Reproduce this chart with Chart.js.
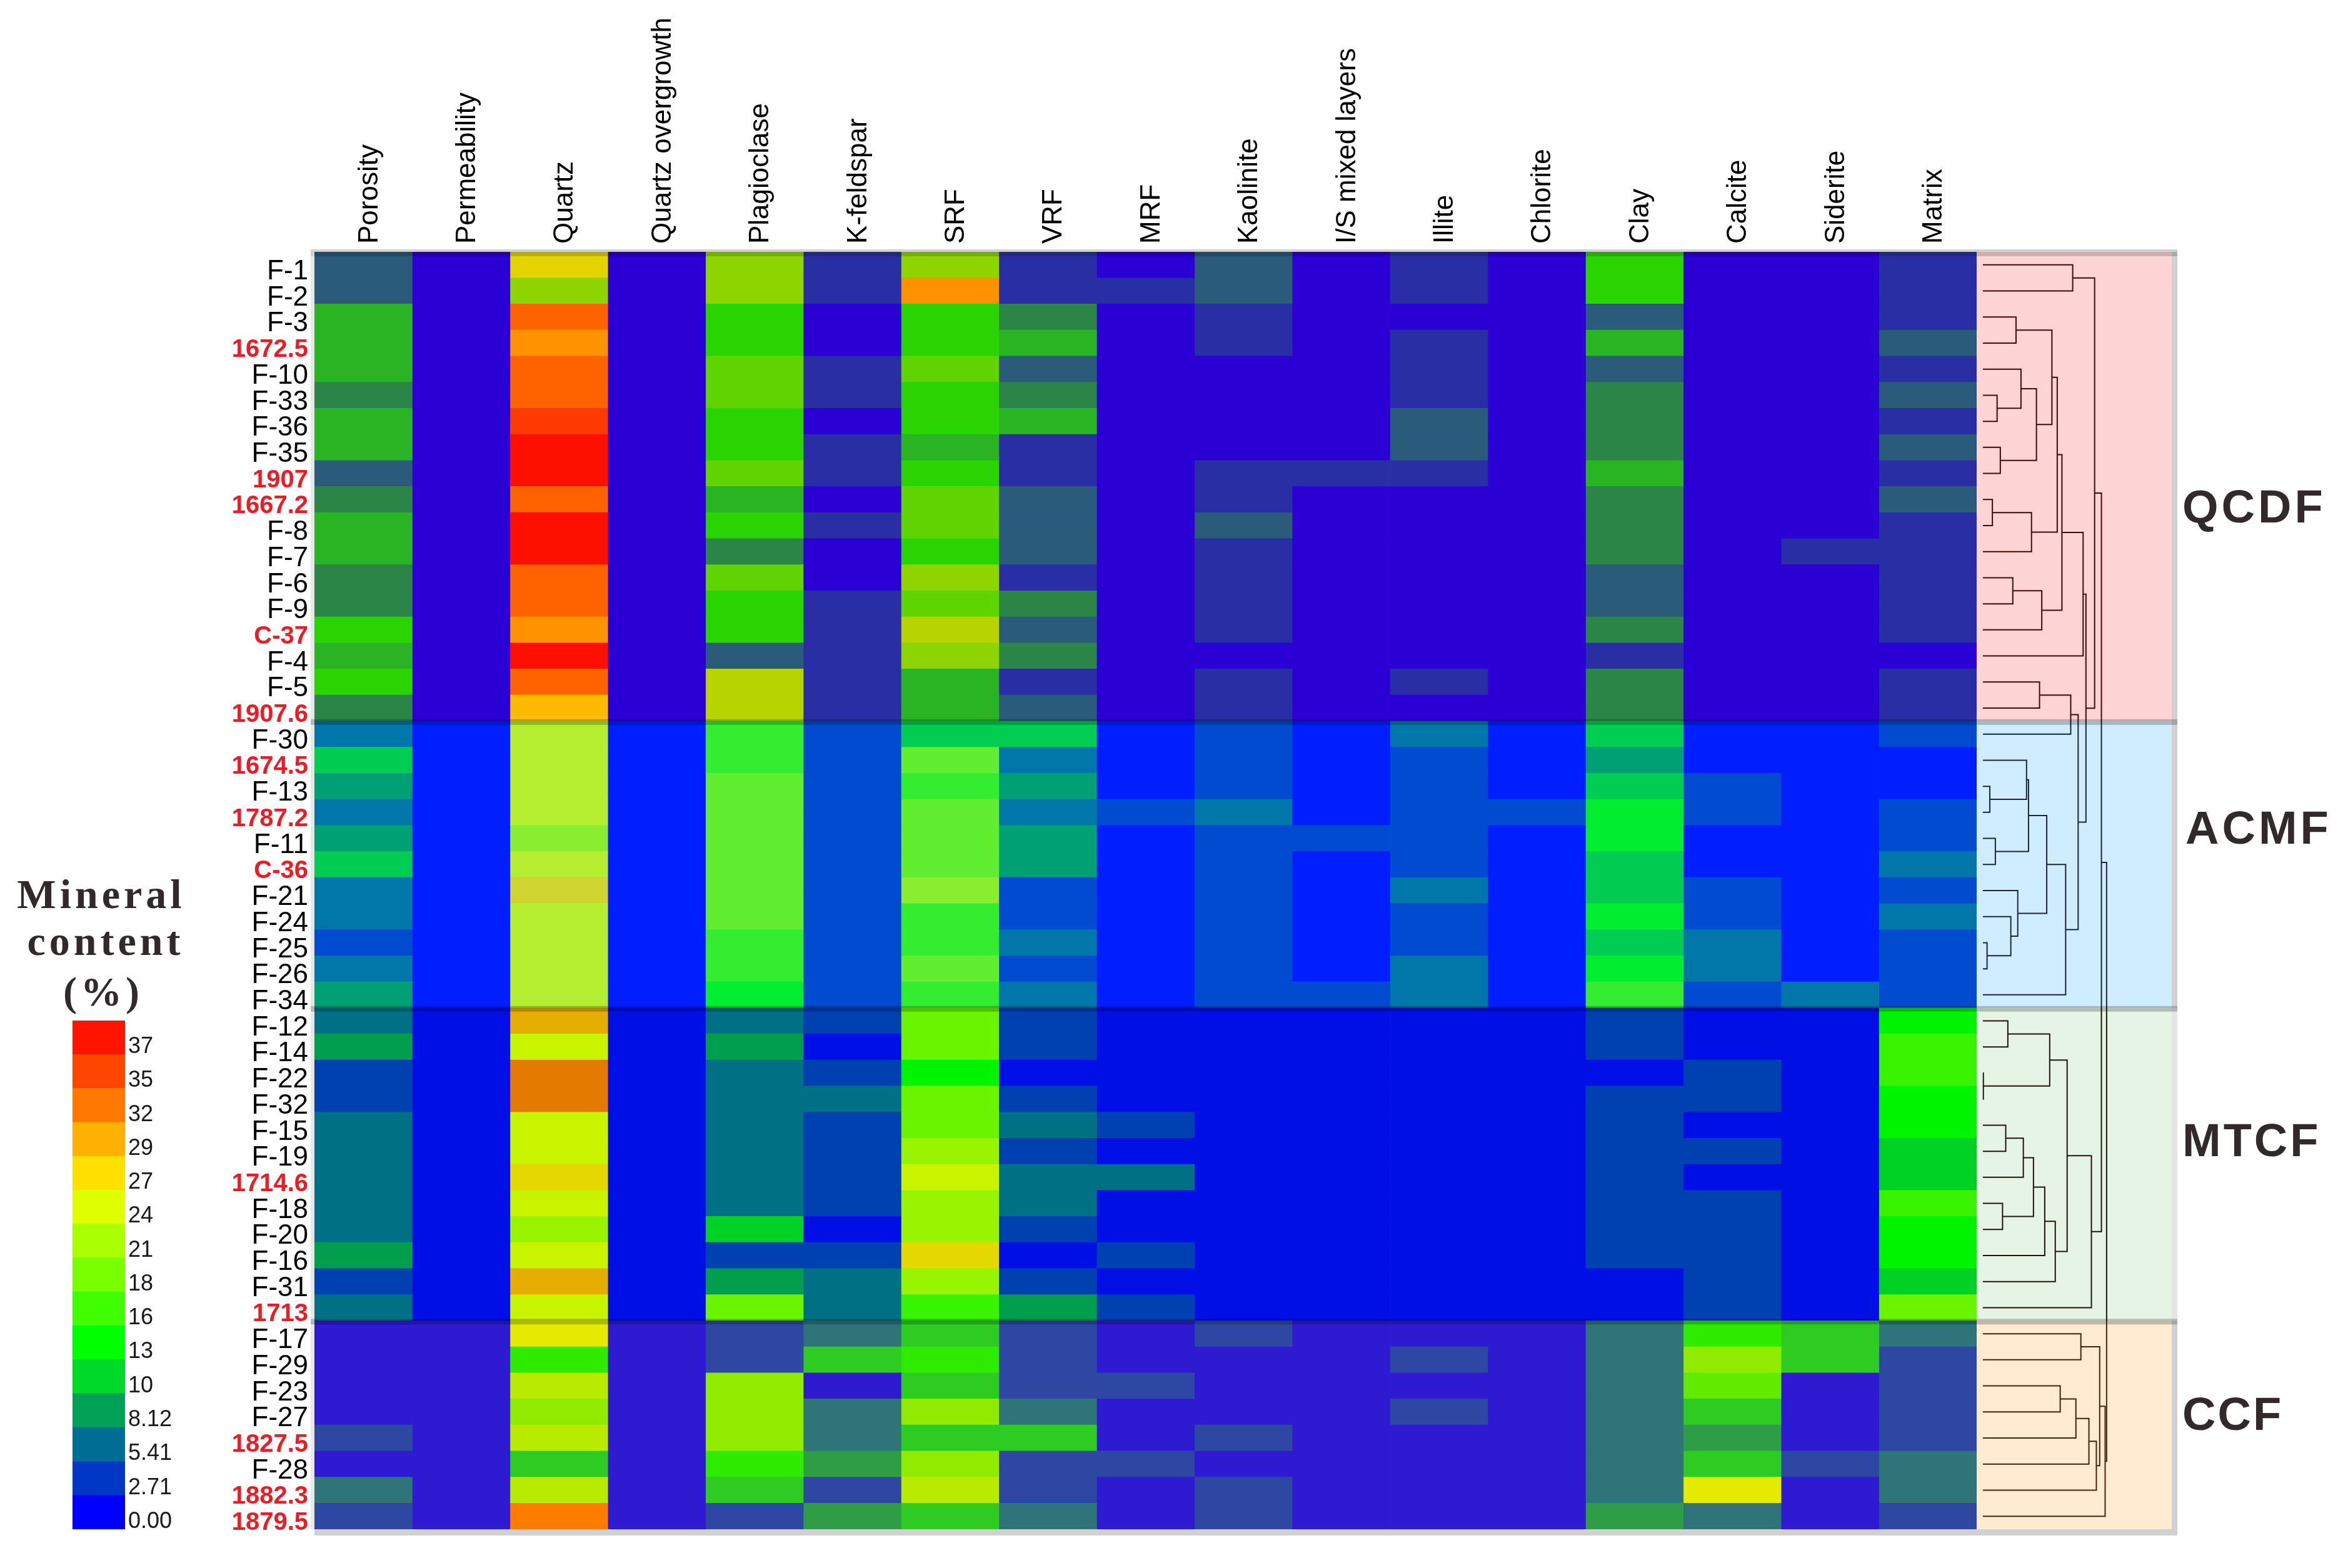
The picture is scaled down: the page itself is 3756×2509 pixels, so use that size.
<!DOCTYPE html>
<html>
<head>
<meta charset="utf-8">
<title>Mineral content heatmap</title>
<script src="https://cdn.jsdelivr.net/npm/chart.js@4"></script>
<style>
    html, body { margin: 0; padding: 0; background: #fff; }
    #page { position: relative; width: 3756px; height: 2509px; overflow: hidden; }
    canvas { position: absolute; left: 0; top: 0; }
    #legendChart { left: 116px; top: 1603px; }
    .groupLabel {
        position: absolute; left: 3491px; color: #322a2a; line-height: 1;
        font: bold 74px "Liberation Sans", Arial, sans-serif; letter-spacing: 5px;
    }
    .legendTitle {
        position: absolute; left: 17px; width: 290px; text-align: center; color: #322a2a; line-height: 1;
        font: bold 66px "Liberation Serif", "Times New Roman", serif; letter-spacing: 6px;
    }
</style>
</head>
<body>
<div id="page">
    <canvas id="heatChart" width="3756" height="2509"></canvas>
    <canvas id="dendroChart" width="3756" height="2509"></canvas>
    <canvas id="legendChart" width="200" height="874"></canvas>
    <div class="legendTitle" style="top:1393px">Mineral</div>
    <div class="legendTitle" style="top:1468px;left:24px">content</div>
    <div class="legendTitle" style="top:1549px;left:20px">(%)</div>
    <div class="groupLabel" style="top:768px">QCDF</div>
    <div class="groupLabel" style="top:1282px;left:3496px">ACMF</div>
    <div class="groupLabel" style="top:1782px;letter-spacing:4px">MTCF</div>
    <div class="groupLabel" style="top:2220px;letter-spacing:3px">CCF</div>
</div>
<script>
const rowLabels = [
    'F-1', 'F-2', 'F-3', '1672.5', 'F-10', 'F-33', 'F-36', 'F-35', '1907', '1667.2', 'F-8', 'F-7', 'F-6', 'F-9', 'C-37', 'F-4', 'F-5', '1907.6',
    'F-30', '1674.5', 'F-13', '1787.2', 'F-11', 'C-36', 'F-21', 'F-24', 'F-25', 'F-26', 'F-34',
    'F-12', 'F-14', 'F-22', 'F-32', 'F-15', 'F-19', '1714.6', 'F-18', 'F-20', 'F-16', 'F-31', '1713',
    'F-17', 'F-29', 'F-23', 'F-27', '1827.5', 'F-28', '1882.3', '1879.5'
];
const columnLabels = [
    'Porosity', 'Permeability', 'Quartz', 'Quartz overgrowth', 'Plagioclase', 'K-feldspar', 'SRF', 'VRF', 'MRF',
    'Kaolinite', 'I/S mixed layers', 'Illite', 'Chlorite', 'Clay', 'Calcite', 'Siderite', 'Matrix'
];

// One array per column, one value per row
const porosity = [
    5.41, 5.41, 10, 10, 10, 8.12, 10, 10, 5.41, 8.12, 10, 10, 8.12, 8.12, 13, 10, 13, 8.12,
    5.41, 10, 8.12, 5.41, 8.12, 10, 5.41, 5.41, 2.71, 5.41, 8.12,
    5.41, 8.12, 2.71, 2.71, 5.41, 5.41, 5.41, 5.41, 5.41, 8.12, 2.71, 5.41,
    0, 0, 0, 0, 2.71, 0, 5.41, 2.71
];
const permeability = [
    0, 0, 0, 0, 0, 0, 0, 0, 0, 0, 0, 0, 0, 0, 0, 0, 0, 0,
    0, 0, 0, 0, 0, 0, 0, 0, 0, 0, 0,
    0, 0, 0, 0, 0, 0, 0, 0, 0, 0, 0, 0,
    0, 0, 0, 0, 0, 0, 0, 0
];
const quartz = [
    24, 18, 32, 29, 32, 32, 35, 37, 37, 32, 37, 37, 32, 32, 29, 37, 32, 27,
    24, 24, 24, 24, 21, 24, 27, 24, 24, 24, 24,
    29, 24, 32, 32, 24, 24, 27, 24, 21, 24, 29, 24,
    24, 13, 21, 18, 21, 10, 21, 32
];
const quartzOvergrowth = [
    0, 0, 0, 0, 0, 0, 0, 0, 0, 0, 0, 0, 0, 0, 0, 0, 0, 0,
    0, 0, 0, 0, 0, 0, 0, 0, 0, 0, 0,
    0, 0, 0, 0, 0, 0, 0, 0, 0, 0, 0, 0,
    0, 0, 0, 0, 0, 0, 0, 0
];
const plagioclase = [
    18, 18, 13, 13, 16, 16, 13, 13, 16, 10, 13, 8.12, 16, 13, 13, 5.41, 21, 21,
    16, 16, 18, 18, 18, 18, 18, 18, 16, 16, 13,
    5.41, 8.12, 5.41, 5.41, 5.41, 5.41, 5.41, 5.41, 10, 2.71, 8.12, 18,
    2.71, 2.71, 18, 18, 18, 13, 10, 2.71
];
const kFeldspar = [
    2.71, 2.71, 0, 0, 2.71, 2.71, 0, 2.71, 2.71, 0, 2.71, 0, 0, 2.71, 2.71, 2.71, 2.71, 2.71,
    2.71, 2.71, 2.71, 2.71, 2.71, 2.71, 2.71, 2.71, 2.71, 2.71, 2.71,
    2.71, 0, 2.71, 5.41, 2.71, 2.71, 2.71, 2.71, 0, 2.71, 5.41, 5.41,
    5.41, 10, 0, 5.41, 5.41, 8.12, 2.71, 8.12
];
const srf = [
    18, 29, 13, 13, 16, 13, 13, 10, 13, 16, 16, 13, 18, 16, 21, 18, 10, 10,
    10, 18, 16, 18, 18, 18, 21, 16, 16, 18, 16,
    18, 18, 13, 18, 18, 21, 24, 21, 21, 27, 21, 16,
    10, 13, 10, 18, 10, 18, 21, 10
];
const vrf = [
    2.71, 2.71, 8.12, 10, 5.41, 8.12, 10, 2.71, 2.71, 5.41, 5.41, 5.41, 2.71, 8.12, 5.41, 8.12, 2.71, 5.41,
    10, 5.41, 8.12, 5.41, 8.12, 8.12, 2.71, 2.71, 5.41, 2.71, 5.41,
    2.71, 2.71, 0, 2.71, 5.41, 2.71, 5.41, 5.41, 2.71, 0, 2.71, 8.12,
    2.71, 2.71, 2.71, 5.41, 10, 2.71, 2.71, 5.41
];
const mrf = [
    0, 2.71, 0, 0, 0, 0, 0, 0, 0, 0, 0, 0, 0, 0, 0, 0, 0, 0,
    0, 0, 0, 2.71, 0, 0, 0, 0, 0, 0, 0,
    0, 0, 0, 0, 2.71, 0, 5.41, 0, 0, 2.71, 0, 2.71,
    0, 0, 2.71, 0, 0, 2.71, 0, 0
];
const kaolinite = [
    5.41, 5.41, 2.71, 2.71, 0, 0, 0, 0, 2.71, 2.71, 5.41, 2.71, 2.71, 2.71, 2.71, 0, 2.71, 2.71,
    2.71, 2.71, 2.71, 5.41, 2.71, 2.71, 2.71, 2.71, 2.71, 2.71, 2.71,
    0, 0, 0, 0, 0, 0, 0, 0, 0, 0, 0, 0,
    2.71, 0, 0, 0, 2.71, 0, 2.71, 2.71
];
const mixedLayers = [
    0, 0, 0, 0, 0, 0, 0, 0, 2.71, 0, 0, 0, 0, 0, 0, 0, 0, 0,
    0, 0, 0, 0, 2.71, 0, 0, 0, 0, 0, 2.71,
    0, 0, 0, 0, 0, 0, 0, 0, 0, 0, 0, 0,
    0, 0, 0, 0, 0, 0, 0, 0
];
const illite = [
    2.71, 2.71, 0, 2.71, 2.71, 2.71, 5.41, 5.41, 2.71, 0, 0, 0, 0, 0, 0, 0, 2.71, 0,
    5.41, 2.71, 2.71, 2.71, 2.71, 2.71, 5.41, 2.71, 2.71, 5.41, 5.41,
    0, 0, 0, 0, 0, 0, 0, 0, 0, 0, 0, 0,
    0, 2.71, 0, 2.71, 0, 0, 0, 0
];
const chlorite = [
    0, 0, 0, 0, 0, 0, 0, 0, 0, 0, 0, 0, 0, 0, 0, 0, 0, 0,
    0, 0, 0, 2.71, 0, 0, 0, 0, 0, 0, 0,
    0, 0, 0, 0, 0, 0, 0, 0, 0, 0, 0, 0,
    0, 0, 0, 0, 0, 0, 0, 0
];
const clay = [
    13, 13, 5.41, 10, 5.41, 8.12, 8.12, 8.12, 10, 8.12, 8.12, 8.12, 5.41, 5.41, 8.12, 2.71, 8.12, 8.12,
    10, 8.12, 10, 13, 13, 10, 10, 13, 10, 13, 16,
    2.71, 2.71, 0, 2.71, 2.71, 2.71, 2.71, 2.71, 2.71, 2.71, 0, 0,
    5.41, 5.41, 5.41, 5.41, 5.41, 5.41, 5.41, 8.12
];
const calcite = [
    0, 0, 0, 0, 0, 0, 0, 0, 0, 0, 0, 0, 0, 0, 0, 0, 0, 0,
    0, 0, 2.71, 2.71, 0, 0, 2.71, 2.71, 5.41, 5.41, 2.71,
    0, 0, 2.71, 2.71, 0, 2.71, 0, 2.71, 2.71, 2.71, 2.71, 2.71,
    13, 18, 16, 10, 8.12, 10, 24, 5.41
];
const siderite = [
    0, 0, 0, 0, 0, 0, 0, 0, 0, 0, 0, 2.71, 0, 0, 0, 0, 0, 0,
    0, 0, 0, 0, 0, 0, 0, 0, 0, 0, 5.41,
    0, 0, 0, 0, 0, 0, 0, 0, 0, 0, 0, 0,
    10, 10, 0, 0, 0, 2.71, 0, 0
];
const matrix = [
    2.71, 2.71, 2.71, 5.41, 2.71, 5.41, 2.71, 5.41, 2.71, 5.41, 2.71, 2.71, 2.71, 2.71, 2.71, 0, 2.71, 2.71,
    2.71, 0, 0, 2.71, 2.71, 5.41, 2.71, 5.41, 2.71, 2.71, 2.71,
    13, 16, 16, 13, 13, 10, 10, 16, 13, 13, 10, 18,
    5.41, 2.71, 2.71, 2.71, 2.71, 5.41, 5.41, 2.71
];
const columns = [
    porosity, permeability, quartz, quartzOvergrowth, plagioclase, kFeldspar, srf, vrf, mrf,
    kaolinite, mixedLayers, illite, chlorite, clay, calcite, siderite, matrix
];

// Colour bar, top to bottom
const legendLabels = ['37', '35', '32', '29', '27', '24', '21', '18', '16', '13', '10', '8.12', '5.41', '2.71', '0.00'];
const legendColors = [
    '#ff1400', '#ff4600', '#ff7800', '#ffb000', '#ffe000', '#dfff00', '#aaff00', '#78ff00',
    '#40ff00', '#00ff00', '#00d82a', '#00a056', '#006e94', '#0038c6', '#0000ff'
];

// Facies groups: where each one ends in the row list, its tint and its frame strength
const groupEnds = [18, 29, 41, 49];
const groupTints = ['rgba(250,0,0,0.17)', 'rgba(0,160,255,0.19)', 'rgba(0,150,0,0.1)', 'rgba(255,145,0,0.18)'];
const groupFrameTones = ['rgba(0,0,0,0.18)', 'rgba(0,0,0,0.18)', 'rgba(0,0,0,0.1)', 'rgba(0,0,0,0.18)'];

// Dendrogram merges: [child, child, distance]. A number is a row, 'nK' is merge K.
const dendroMerges = [
    [0, 1, 72.6], [2, 3, 26.8], [5, 6, 11.5], [4, 'n2', 30.8], [7, 8, 14.1], ['n3', 'n4', 43.3],
    ['n1', 'n5', 55.8], [9, 10, 7.7], ['n7', 11, 39.3], ['n6', 'n8', 60.1], [12, 13, 24.2], ['n10', 14, 47.6],
    ['n9', 'n11', 63.9], ['n12', 15, 81], [16, 17, 45.8], ['n14', 18, 71], [20, 21, 5.6], [19, 'n16', 35.3],
    [22, 23, 10.1], ['n17', 'n18', 36.9], [26, 27, 3.4], [25, 'n20', 22.6], [24, 'n21', 28.2], ['n19', 'n22', 51.6],
    ['n23', 28, 66.9], ['n15', 'n24', 77], ['n13', 'n25', 83.3], ['n0', 'n26', 90.3], [29, 30, 20.2], [31, 32, 0.4],
    ['n28', 'n29', 54], [33, 34, 18.5], ['n31', 35, 32.7], [36, 37, 15.9], ['n32', 'n33', 40.9], ['n34', 38, 50],
    ['n35', 39, 58.5], ['n30', 'n36', 68.1], ['n37', 40, 87.7], ['n27', 'n38', 95.8], [41, 42, 79.2], [43, 44, 62.5],
    ['n41', 45, 75.2], ['n42', 46, 85.7], ['n43', 47, 91.7], ['n40', 'n44', 94.4], ['n45', 48, 98.8], ['n39', 'n46', 100]
];

const legendLevels = legendLabels.map(Number);

function colorForValue(value) {
    return legendColors[legendLevels.indexOf(value)];
}

function buildDendroDatasets() {
    const nodes = [];
    const lookup = child => typeof child === 'number'
        ? { y: child + 0.5, h: 0 }
        : nodes[Number(child.slice(1))];

    return dendroMerges.map(([a, b, h]) => {
        const left = lookup(a);
        const right = lookup(b);
        nodes.push({ y: (left.y + right.y) / 2, h: h });
        return {
            data: [
                { x: left.h, y: left.y },
                { x: h, y: left.y },
                { x: h, y: right.y },
                { x: right.h, y: right.y }
            ],
            showLine: true,
            pointRadius: 0,
            borderColor: '#200a0a',
            borderWidth: 2
        };
    });
}

const heatChart = new Chart(document.getElementById('heatChart'), {
    type: 'bar',
    data: {
        labels: rowLabels,
        datasets: columns.map((values, c) => ({
            label: columnLabels[c],
            data: values.map(() => [c, c + 1]),
            backgroundColor: values.map(colorForValue),
            grouped: false,
            barPercentage: 1,
            categoryPercentage: 1
        }))
    },
    options: {
        indexAxis: 'y',
        responsive: false,
        animation: false,
        devicePixelRatio: 1,
        layout: { padding: { left: 0, top: 0, right: 594, bottom: 62 } },
        plugins: { legend: { display: false }, tooltip: { enabled: false } },
        scales: {
            x: {
                type: 'linear',
                position: 'top',
                min: 0,
                max: columnLabels.length,
                afterBuildTicks: axis => { axis.ticks = columnLabels.map((_, i) => ({ value: i + 0.5 })); },
                afterFit: axis => { axis.height = 403; },
                grid: { display: false, drawTicks: false },
                border: { display: false },
                ticks: {
                    callback: (value, index) => columnLabels[index],
                    autoSkip: false,
                    minRotation: 90,
                    maxRotation: 90,
                    padding: 13,
                    labelOffset: 63,
                    color: '#000',
                    font: { family: '"Liberation Sans"', size: 44 }
                }
            },
            y: {
                afterFit: axis => { axis.width = 503; },
                grid: { display: false, drawTicks: false },
                border: { display: false },
                ticks: {
                    autoSkip: false,
                    padding: 10,
                    labelOffset: 11,
                    color: ctx => rowLabels[ctx.index].startsWith('F-') ? '#000' : '#ed1c24',
                    font: ctx => rowLabels[ctx.index].startsWith('F-')
                        ? { family: '"Liberation Sans"', size: 44 }
                        : { family: '"Liberation Sans"', size: 40, weight: 'bold' }
                }
            }
        }
    }
});

// Tints and the grey frame go on top of both the heatmap and the dendrogram
const groupFrame = {
    id: 'groupFrame',
    afterDatasetsDraw(chart) {
        const ctx = chart.ctx;
        const yScale = chart.scales.y;
        const left = heatChart.chartArea.left;
        const right = chart.chartArea.right;
        const top = yScale.getPixelForValue(0);
        const bottom = yScale.getPixelForValue(rowLabels.length);
        const bandRight = right + 9;

        ctx.save();
        let start = 0;
        groupEnds.forEach((end, i) => {
            const y0 = yScale.getPixelForValue(start);
            const y1 = yScale.getPixelForValue(end);
            ctx.fillStyle = groupTints[i];
            ctx.fillRect(left, y0, right - left, y1 - y0);
            ctx.fillStyle = groupFrameTones[i];
            ctx.fillRect(right, y0, 9, y1 - y0);
            start = end;
        });

        ctx.fillStyle = 'rgba(0,0,0,0.18)';
        ctx.fillRect(left - 6, top - 4, bandRight - left + 6, 11);
        ctx.fillRect(left, bottom, bandRight - left, 10);

        ctx.fillStyle = 'rgba(0,0,0,0.09)';
        ctx.fillRect(left - 6, top + 7, 6, bottom - top - 7);

        ctx.fillStyle = 'rgba(0,0,0,0.22)';
        groupEnds.slice(0, -1).forEach(end => {
            const y = yScale.getPixelForValue(end);
            ctx.fillRect(left - 6, y - 3, bandRight - left + 6, 9);
        });
        ctx.restore();
    }
};

new Chart(document.getElementById('dendroChart'), {
    type: 'scatter',
    data: { datasets: buildDendroDatasets() },
    options: {
        responsive: false,
        animation: false,
        devicePixelRatio: 1,
        layout: { padding: { left: 3162, top: 403, right: 282, bottom: 62 } },
        plugins: { legend: { display: false }, tooltip: { enabled: false } },
        scales: {
            x: { type: 'linear', min: -5, max: 152.6, display: false },
            y: { type: 'linear', min: 0, max: rowLabels.length, reverse: true, display: false }
        }
    },
    plugins: [groupFrame]
});

new Chart(document.getElementById('legendChart'), {
    type: 'bar',
    data: {
        labels: legendLabels,
        datasets: [{
            data: legendLabels.map(() => [0, 1]),
            backgroundColor: legendColors,
            barPercentage: 1,
            categoryPercentage: 1
        }]
    },
    options: {
        indexAxis: 'y',
        responsive: false,
        animation: false,
        devicePixelRatio: 1,
        layout: { padding: { left: 0, top: 30, right: 0, bottom: 30 } },
        plugins: { legend: { display: false }, tooltip: { enabled: false } },
        scales: {
            x: { type: 'linear', min: 0, max: 1, display: false },
            y: {
                position: 'right',
                afterFit: axis => { axis.width = 116; },
                grid: { display: false, drawTicks: false },
                border: { display: false },
                ticks: {
                    autoSkip: false,
                    padding: 5,
                    labelOffset: 15,
                    color: '#1a1a1a',
                    font: { family: '"Liberation Sans"', size: 36 }
                }
            }
        }
    }
});
</script>
</body>
</html>
